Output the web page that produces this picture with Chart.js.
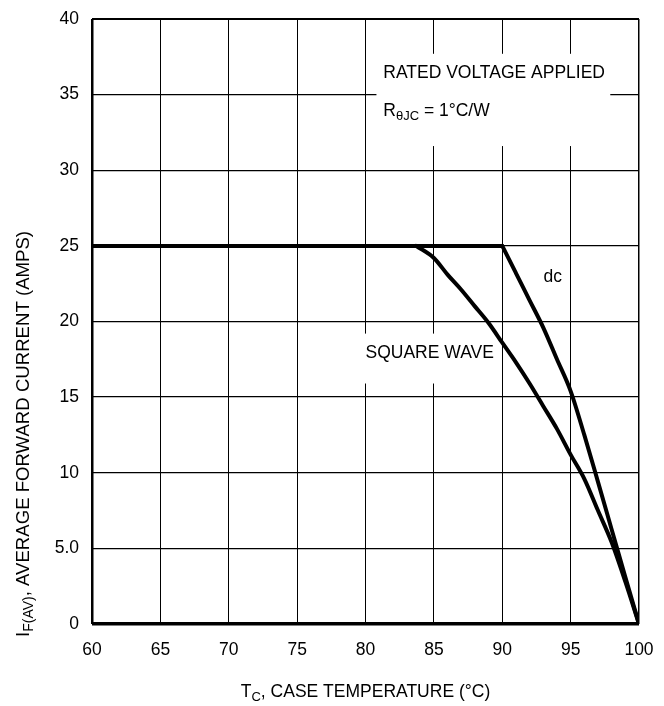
<!DOCTYPE html>
<html>
<head>
<meta charset="utf-8">
<script src="https://cdn.jsdelivr.net/npm/chart.js@4.4.1/dist/chart.umd.min.js"></script>
<style>
  html, body { margin: 0; padding: 0; background: #fff; }
  #wrap { width: 664px; height: 706px; }
</style>
</head>
<body>
<div id="wrap"><canvas id="c" width="664" height="706"></canvas></div>
<script>
// ---- data ----
const xTicks = [60, 65, 70, 75, 80, 85, 90, 95, 100];
const yTicks = [0, 5, 10, 15, 20, 25, 30, 35, 40];
const yTickLabels = ["0", "5.0", "10", "15", "20", "25", "30", "35", "40"];

const dcTemp    = [60, 90, 91, 92, 93, 94, 95, 96, 97, 98, 99, 100];
const dcCurrent = [25, 25, 23.2, 21.4, 19.6, 17.5, 15.4, 12.5, 9.4, 6.25, 3.1, 0];

const sqTemp    = [83.7, 85, 86, 87, 88, 89, 90, 91, 92, 93, 94, 95, 96, 97, 98, 99, 100];
const sqCurrent = [25, 24.2, 23.1, 22.1, 21.0, 19.9, 18.6, 17.3, 15.9, 14.4, 12.9, 11.2, 9.6, 7.5, 5.4, 2.8, 0];

const FONT = "'Liberation Sans', Arial, sans-serif";

function pts(xs, ys) { return xs.map((x, i) => ({ x: x, y: ys[i] })); }
const dcAll = pts(dcTemp, dcCurrent);
const dcFlat = dcAll.slice(0, 2);   // constant rated current part
const dcFall = dcAll.slice(1);      // derating part

// annotation plugin: white label boxes + texts
const annotations = {
  id: 'annotations',
  beforeDatasetsDraw(chart) {
    const ctx = chart.ctx, xs = chart.scales.x, ys = chart.scales.y;
    const X = v => xs.getPixelForValue(v), Y = v => ys.getPixelForValue(v);
    ctx.save();
    ctx.fillStyle = '#fff';
    ctx.fillRect(X(80.8), Y(37.7), X(97.9) - X(80.8), Y(31.6) - Y(37.7));
    ctx.fillRect(X(79.5), Y(19.2), X(89.8) - X(79.5), Y(15.9) - Y(19.2));

    ctx.fillStyle = '#000';
    ctx.textBaseline = 'middle';
    ctx.textAlign = 'left';
    ctx.font = '17.5px ' + FONT;
    ctx.fillText('RATED VOLTAGE APPLIED', X(81.3), Y(36.4));
    let x0 = X(81.3), y0 = Y(33.9);
    ctx.fillText('R', x0, y0);
    let w = ctx.measureText('R').width;
    ctx.font = '13px ' + FONT;
    ctx.fillText('\u03B8JC', x0 + w, y0 + 5);
    let w2 = ctx.measureText('\u03B8JC').width;
    ctx.font = '17.5px ' + FONT;
    ctx.fillText(' = 1\u00B0C/W', x0 + w + w2, y0);

    ctx.fillText('SQUARE WAVE', X(80.0), Y(17.9));
    ctx.textAlign = 'center';
    ctx.fillText('dc', X(93.7), Y(22.9));
    ctx.restore();
  },
  afterDraw(chart) {
    const ctx = chart.ctx, a = chart.chartArea;
    ctx.save();
    ctx.fillStyle = '#000';
    ctx.textBaseline = 'alphabetic';
    const big = '17.5px ' + FONT, small = '13px ' + FONT;
    const parts = [['T', big, 0], ['C', small, 4], [', CASE TEMPERATURE (\u00B0C)', big, 0]];
    let total = 0;
    parts.forEach(p => { ctx.font = p[1]; total += ctx.measureText(p[0]).width; });
    let x = (a.left + a.right) / 2 - total / 2;
    const yb = 697;
    parts.forEach(p => { ctx.font = p[1]; ctx.fillText(p[0], x, yb + p[2]); x += ctx.measureText(p[0]).width; });

    const ybig = '18.6px ' + FONT, ysmall = '14px ' + FONT;
    ctx.translate(29, 637);
    ctx.rotate(-Math.PI / 2);
    const yparts = [['I', ybig, 0], ['F(AV)', ysmall, 4], [', AVERAGE FORWARD CURRENT (AMPS)', ybig, 0]];
    let yy = 0;
    yparts.forEach(p => { ctx.font = p[1]; ctx.fillText(p[0], yy, p[2]); yy += ctx.measureText(p[0]).width; });
    ctx.restore();
  }
};

const lineStyle = { borderColor: '#000', borderWidth: 4, pointRadius: 0, fill: false,
                    borderJoinStyle: 'round', borderCapStyle: 'round' };

new Chart(document.getElementById('c'), {
  type: 'line',
  data: {
    datasets: [
      Object.assign({ label: 'dc', data: dcFlat, tension: 0 }, lineStyle),
      Object.assign({ label: 'dc', data: dcFall, tension: 0.4, cubicInterpolationMode: 'monotone' }, lineStyle),
      Object.assign({ label: 'SQUARE WAVE', data: pts(sqTemp, sqCurrent), tension: 0.4, cubicInterpolationMode: 'monotone' }, lineStyle)
    ]
  },
  options: {
    responsive: false,
    animation: false,
    devicePixelRatio: 1,
    layout: { padding: { top: 19, right: 25, left: 0, bottom: 0 } },
    plugins: { legend: { display: false }, tooltip: { enabled: false } },
    scales: {
      x: {
        type: 'linear', min: 60, max: 100,
        afterBuildTicks: s => { s.ticks = xTicks.map(v => ({ value: v })); },
        afterFit: s => { s.height = 82; s.paddingLeft = 0; s.paddingRight = 0; },
        ticks: { color: '#000', font: { family: FONT, size: 17.5 }, padding: 16, maxRotation: 0,
                 callback: v => String(v) },
        grid: { color: '#000', drawTicks: false,
                lineWidth: c => c.tick && c.tick.value === 60 ? 2.5 : (c.tick && c.tick.value === 100 ? 1.5 : 1) },
        border: { display: false }
      },
      y: {
        type: 'linear', min: 0, max: 40,
        afterBuildTicks: s => { s.ticks = yTicks.map(v => ({ value: v })); },
        afterFit: s => { s.width = 92; s.paddingTop = 0; s.paddingBottom = 0; },
        ticks: { color: '#000', font: { family: FONT, size: 17.5 }, padding: 13,
                 callback: v => yTickLabels[yTicks.indexOf(v)] },
        grid: { color: '#000', drawTicks: false,
                lineWidth: c => c.tick && c.tick.value === 0 ? 3.5 : (c.tick && c.tick.value === 40 ? 2 : 1.3) },
        border: { display: false }
      }
    }
  },
  plugins: [annotations]
});
</script>
</body>
</html>
